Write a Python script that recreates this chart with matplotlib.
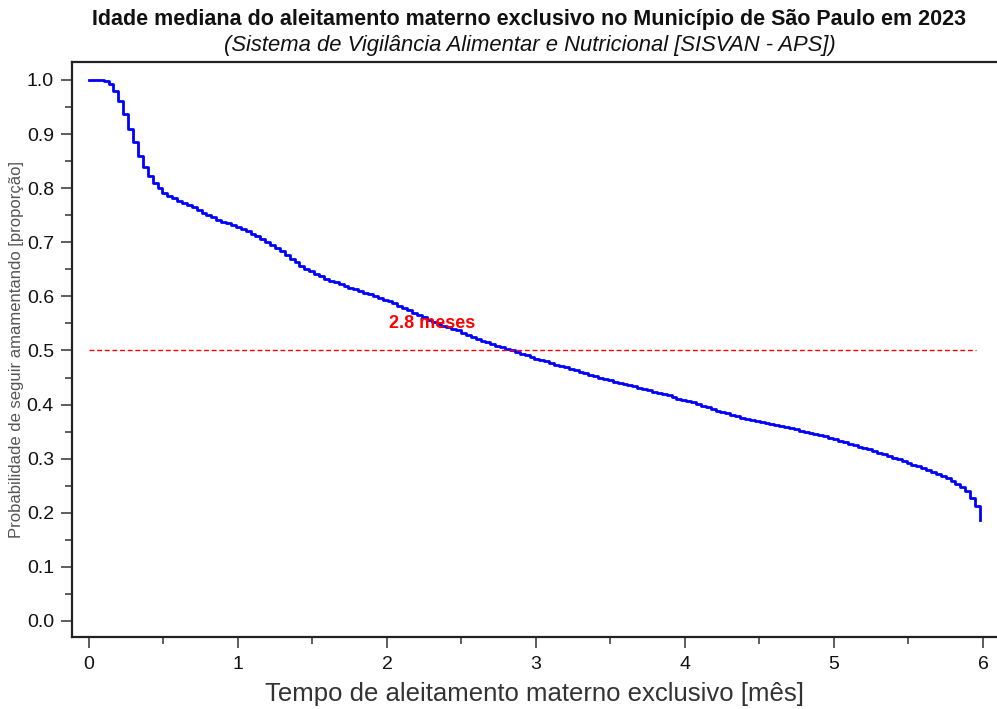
"""
Curva de sobrevida do aleitamento materno exclusivo (SISVAN - APS, 2023).
Desenha a proporção de crianças ainda em AME por dia de vida e marca a mediana.
"""

import numpy as np
import matplotlib
matplotlib.use("Agg")
import matplotlib.pyplot as plt

plt.rcParams['font.family'] = ['Liberation Sans', 'DejaVu Sans']

DIAS_POR_MES = 30.4375

# proporção em AME ao fim de cada dia (dia 0 .. dia 182)
sobrevida = [
    1.000, 1.000, 1.000, 0.999, 0.993, 0.980, 0.962, 0.937, 0.910, 0.886,
    0.860, 0.840, 0.823, 0.810, 0.801, 0.792, 0.785, 0.781, 0.777, 0.773,
    0.769, 0.765, 0.760, 0.755, 0.750, 0.746, 0.742, 0.738, 0.735, 0.732,
    0.729, 0.725, 0.721, 0.716, 0.711, 0.706, 0.701, 0.695, 0.690, 0.684,
    0.677, 0.670, 0.664, 0.657, 0.651, 0.646, 0.641, 0.637, 0.633, 0.629,
    0.626, 0.622, 0.619, 0.616, 0.613, 0.610, 0.607, 0.604, 0.600, 0.597,
    0.594, 0.591, 0.587, 0.583, 0.579, 0.574, 0.570, 0.565, 0.561, 0.557,
    0.553, 0.549, 0.546, 0.543, 0.540, 0.537, 0.533, 0.529, 0.525, 0.522,
    0.518, 0.515, 0.512, 0.509, 0.506, 0.503, 0.500, 0.497, 0.494, 0.491,
    0.488, 0.485, 0.482, 0.480, 0.477, 0.474, 0.472, 0.469, 0.466, 0.464,
    0.461, 0.458, 0.455, 0.453, 0.450, 0.447, 0.445, 0.442, 0.440, 0.438,
    0.436, 0.434, 0.431, 0.429, 0.427, 0.424, 0.422, 0.419, 0.417, 0.414,
    0.411, 0.409, 0.406, 0.404, 0.401, 0.398, 0.395, 0.392, 0.389, 0.387,
    0.384, 0.381, 0.379, 0.376, 0.374, 0.372, 0.370, 0.368, 0.366, 0.364,
    0.362, 0.360, 0.358, 0.356, 0.354, 0.352, 0.350, 0.348, 0.346, 0.344,
    0.341, 0.338, 0.336, 0.333, 0.330, 0.327, 0.325, 0.322, 0.319, 0.317,
    0.314, 0.311, 0.308, 0.305, 0.302, 0.299, 0.296, 0.292, 0.289, 0.286,
    0.283, 0.279, 0.276, 0.272, 0.268, 0.264, 0.259, 0.254, 0.247, 0.240,
    0.228, 0.212, 0.187,
]

mediana_meses = 2.8
nivel_mediana = 0.5
fim_referencia = 5.95

x_ticks = [0, 1, 2, 3, 4, 5, 6]
y_ticks = [0.0, 0.1, 0.2, 0.3, 0.4, 0.5, 0.6, 0.7, 0.8, 0.9, 1.0]

tempo = np.arange(len(sobrevida)) / DIAS_POR_MES

fig = plt.figure(figsize=(9.97, 7.09), dpi=100)
ax = fig.add_axes([0.0722, 0.1016, 0.9278, 0.811])

ax.step(tempo, sobrevida, where='post', color='#0000ff', linewidth=2.0)
ax.plot([0, fim_referencia], [nivel_mediana, nivel_mediana], color='#ff0000',
        linewidth=1.0, linestyle=(0, (3.5, 2)))
ax.text(2.3, 0.549, f"{mediana_meses:.1f} meses", color='#ff0000',
        fontsize=13, fontweight='bold', ha='center', va='center')

ax.set_xlim(-0.114, 6.094)
ax.set_ylim(-0.0296, 1.0333)

ax.set_xticks(x_ticks)
ax.set_xticklabels([str(t) for t in x_ticks])
ax.set_xticks(np.array(x_ticks[:-1]) + 0.5, minor=True)
ax.set_yticks(y_ticks)
ax.set_yticklabels([f"{v:.1f}" for v in y_ticks])
ax.set_yticks(np.array(y_ticks[:-1]) + 0.05, minor=True)

ax.tick_params(axis='both', which='major', direction='out', length=8,
               width=1.1, color='#333333', labelsize=14, labelcolor='#111111')
ax.tick_params(axis='both', which='minor', direction='out', length=5,
               width=1.1, color='#333333')
ax.tick_params(axis='x', which='major', pad=6)
ax.tick_params(axis='y', which='major', pad=5)

for lado in ['left', 'bottom', 'top']:
    ax.spines[lado].set_color('#222222')
    ax.spines[lado].set_linewidth(1.6)
ax.spines['right'].set_visible(False)

ax.set_xlabel("Tempo de aleitamento materno exclusivo [mês]", fontsize=18.5,
              color='#333333', labelpad=6)
ax.set_ylabel("Probabilidade de seguir amamentando [proporção]", fontsize=12,
              color='#555555', labelpad=2)

fig.text(0.531, 0.973, "Idade mediana do aleitamento materno exclusivo no Município de São Paulo em 2023",
         ha='center', va='center', fontsize=15.5, fontweight='bold', color='#111111')
fig.text(0.531, 0.936, "(Sistema de Vigilância Alimentar e Nutricional [SISVAN - APS])",
         ha='center', va='center', fontsize=15.8, style='italic', color='#111111')

fig.savefig("out.png", dpi=100)
